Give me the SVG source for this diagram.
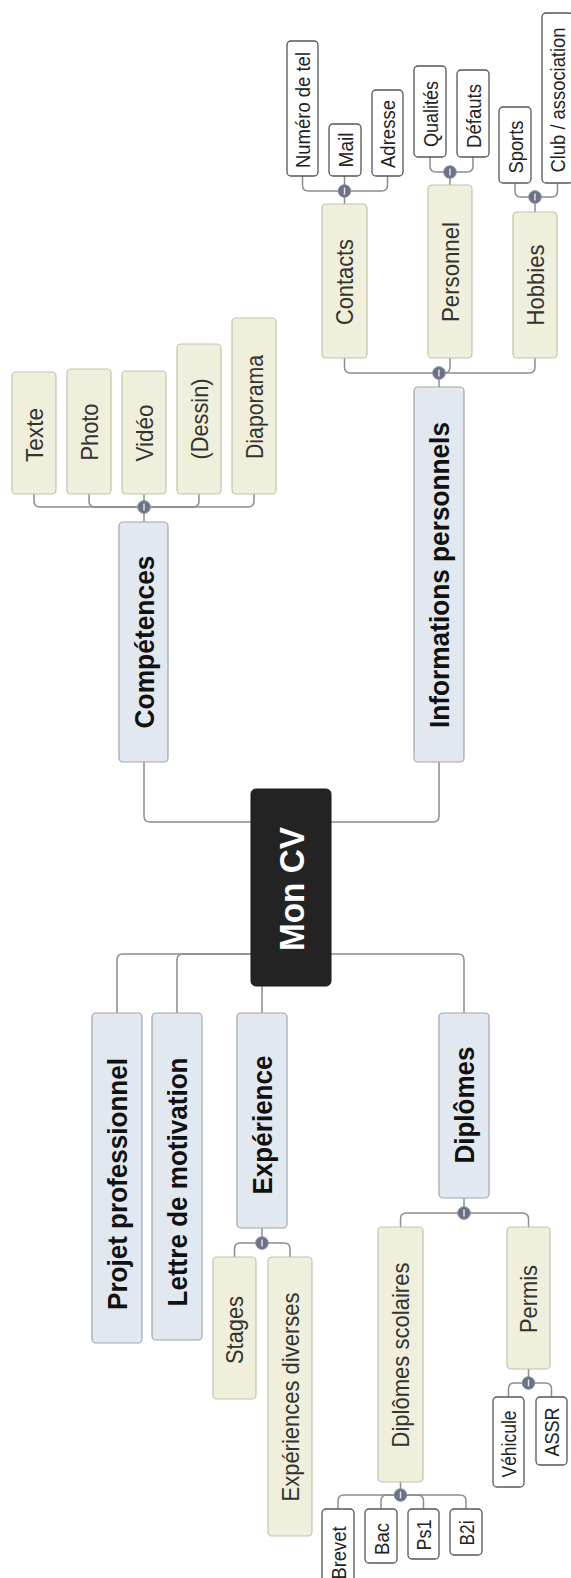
<svg xmlns="http://www.w3.org/2000/svg" xmlns:xlink="http://www.w3.org/1999/xlink" width="571" height="1578" viewBox="0 0 571 1578">
<style>
text{font-family:"Liberation Sans",Arial,sans-serif;text-anchor:middle;dominant-baseline:central}
.r0{fill:#232323;stroke:#1a1a1a;stroke-width:1}
.r1{fill:#e2e8f0;stroke:#9ea6b2;stroke-width:1.2}
.r2{fill:#f0efdc;stroke:#c4c2aa;stroke-width:1.2}
.r3{fill:#ffffff;stroke:#555555;stroke-width:1.3}
.t0{font-size:35px;font-weight:bold;fill:#ffffff}
.t1{font-size:28.5px;font-weight:bold;fill:#111111}
.t2{font-size:24.5px;fill:#333333}
.t3{font-size:21px;fill:#222222}
.c{fill:none;stroke:#8c8c8c;stroke-width:1.5}
</style>
<defs>
<g id="dot"><circle r="6.3" fill="#6b7285" stroke="#8a90a0" stroke-width="1"/><line x1="0" y1="-3.5" x2="0" y2="3.5" stroke="#e6e8ee" stroke-width="1.4"/></g>
</defs>
<rect width="571" height="1578" fill="#ffffff"/>
<g id="connectors">
<path class="c" d="M251,822 H150 Q144,822 144,816 V762"/>
<path class="c" d="M331,822 H433 Q439,822 439,816 V762"/>
<path class="c" d="M251,954 H123 Q117,954 117,960 V1013"/>
<path class="c" d="M251,954 H183 Q177,954 177,960 V1013"/>
<path class="c" d="M262,986 V1013"/>
<path class="c" d="M331,954 H458 Q464,954 464,960 V1013"/>
<path class="c" d="M144,522 V507"/>
<path class="c" d="M144,507 H40 Q34,507 34,501 V494"/>
<path class="c" d="M144,507 H95 Q89,507 89,501 V494"/>
<path class="c" d="M144,507 V494"/>
<path class="c" d="M144,507 H193 Q199,507 199,501 V494"/>
<path class="c" d="M144,507 H248 Q254,507 254,501 V494"/>
<path class="c" d="M439,387 V373"/>
<path class="c" d="M439,373 H350.5 Q344.5,373 344.5,367 V358"/>
<path class="c" d="M439,373 H444 Q450,373 450,367 V358"/>
<path class="c" d="M439,373 H529 Q535,373 535,367 V358"/>
<path class="c" d="M344.5,204 V191"/>
<path class="c" d="M344.5,191 H308.5 Q302.5,191 302.5,185 V176"/>
<path class="c" d="M344.5,191 V176"/>
<path class="c" d="M344.5,191 H381.5 Q387.5,191 387.5,185 V176"/>
<path class="c" d="M450,185 V172"/>
<path class="c" d="M450,172 H436 Q430,172 430,166 V157"/>
<path class="c" d="M450,172 H467 Q473,172 473,166 V157"/>
<path class="c" d="M535,212 V197"/>
<path class="c" d="M535,197 H521 Q515,197 515,191 V183"/>
<path class="c" d="M535,197 H551.5 Q557.5,197 557.5,191 V183"/>
<path class="c" d="M262,1228 V1243"/>
<path class="c" d="M262,1243 H240.5 Q234.5,1243 234.5,1249 V1257"/>
<path class="c" d="M262,1243 H284 Q290,1243 290,1249 V1257"/>
<path class="c" d="M464,1198 V1213"/>
<path class="c" d="M464,1213 H406.5 Q400.5,1213 400.5,1219 V1227"/>
<path class="c" d="M464,1213 H522.5 Q528.5,1213 528.5,1219 V1227"/>
<path class="c" d="M400.5,1482 V1495"/>
<path class="c" d="M400.5,1495 H344 Q338,1495 338,1501 V1509"/>
<path class="c" d="M400.5,1495 H387 Q381,1495 381,1501 V1509"/>
<path class="c" d="M400.5,1495 H417.5 Q423.5,1495 423.5,1501 V1509"/>
<path class="c" d="M400.5,1495 H460 Q466,1495 466,1501 V1509"/>
<path class="c" d="M528.5,1369 V1383"/>
<path class="c" d="M528.5,1383 H514.5 Q508.5,1383 508.5,1389 V1397"/>
<path class="c" d="M528.5,1383 H545.5 Q551.5,1383 551.5,1389 V1397"/>
<use xlink:href="#dot" x="144" y="507"/>
<use xlink:href="#dot" x="439" y="373"/>
<use xlink:href="#dot" x="344.5" y="191"/>
<use xlink:href="#dot" x="450" y="172"/>
<use xlink:href="#dot" x="535" y="197"/>
<use xlink:href="#dot" x="262" y="1243"/>
<use xlink:href="#dot" x="464" y="1213"/>
<use xlink:href="#dot" x="400.5" y="1495"/>
<use xlink:href="#dot" x="528.5" y="1383"/>
</g>
<g id="n-moncv"><rect class="r0" x="251" y="789" width="80" height="197" rx="5"/><text class="t0" transform="translate(291,889) rotate(-90)" textLength="124" lengthAdjust="spacingAndGlyphs">Mon CV</text></g>
<g id="n-competences"><rect class="r1" x="119" y="522" width="49" height="240" rx="4"/><text class="t1" transform="translate(143.5,642) rotate(-90)" textLength="173" lengthAdjust="spacingAndGlyphs">Compétences</text></g>
<g id="n-infos"><rect class="r1" x="414" y="387" width="50" height="375" rx="4"/><text class="t1" transform="translate(439,575) rotate(-90)" textLength="306" lengthAdjust="spacingAndGlyphs">Informations personnels</text></g>
<g id="n-projet"><rect class="r1" x="92" y="1013" width="50" height="330" rx="4"/><text class="t1" transform="translate(117,1184) rotate(-90)" textLength="252" lengthAdjust="spacingAndGlyphs">Projet professionnel</text></g>
<g id="n-lettre"><rect class="r1" x="152" y="1013" width="50" height="327" rx="4"/><text class="t1" transform="translate(177,1182) rotate(-90)" textLength="249" lengthAdjust="spacingAndGlyphs">Lettre de motivation</text></g>
<g id="n-experience"><rect class="r1" x="237" y="1013" width="50" height="215" rx="4"/><text class="t1" transform="translate(262,1125) rotate(-90)" textLength="139" lengthAdjust="spacingAndGlyphs">Expérience</text></g>
<g id="n-diplomes"><rect class="r1" x="439" y="1013" width="50" height="185" rx="4"/><text class="t1" transform="translate(464,1105) rotate(-90)" textLength="117" lengthAdjust="spacingAndGlyphs">Diplômes</text></g>
<g id="n-texte"><rect class="r2" x="12" y="372" width="44" height="122" rx="4"/><text class="t2" transform="translate(34,435) rotate(-90)" textLength="54" lengthAdjust="spacingAndGlyphs">Texte</text></g>
<g id="n-photo"><rect class="r2" x="67" y="369" width="44" height="125" rx="4"/><text class="t2" transform="translate(89,432) rotate(-90)" textLength="57" lengthAdjust="spacingAndGlyphs">Photo</text></g>
<g id="n-video"><rect class="r2" x="122" y="371" width="44" height="123" rx="4"/><text class="t2" transform="translate(144,433) rotate(-90)" textLength="57" lengthAdjust="spacingAndGlyphs">Vidéo</text></g>
<g id="n-dessin"><rect class="r2" x="177" y="344" width="44" height="150" rx="4"/><text class="t2" transform="translate(199,419) rotate(-90)" textLength="81" lengthAdjust="spacingAndGlyphs">(Dessin)</text></g>
<g id="n-diaporama"><rect class="r2" x="232" y="318" width="44" height="176" rx="4"/><text class="t2" transform="translate(254,407) rotate(-90)" textLength="104" lengthAdjust="spacingAndGlyphs">Diaporama</text></g>
<g id="n-contacts"><rect class="r2" x="322" y="204" width="45" height="154" rx="4"/><text class="t2" transform="translate(344.5,282) rotate(-90)" textLength="86" lengthAdjust="spacingAndGlyphs">Contacts</text></g>
<g id="n-personnel"><rect class="r2" x="428" y="185" width="44" height="173" rx="4"/><text class="t2" transform="translate(450,272) rotate(-90)" textLength="100" lengthAdjust="spacingAndGlyphs">Personnel</text></g>
<g id="n-hobbies"><rect class="r2" x="513" y="212" width="44" height="146" rx="4"/><text class="t2" transform="translate(535,285) rotate(-90)" textLength="81" lengthAdjust="spacingAndGlyphs">Hobbies</text></g>
<g id="n-stages"><rect class="r2" x="213" y="1257" width="43" height="142" rx="4"/><text class="t2" transform="translate(234.5,1330) rotate(-90)" textLength="68" lengthAdjust="spacingAndGlyphs">Stages</text></g>
<g id="n-expdiv"><rect class="r2" x="268" y="1257" width="44" height="279" rx="4"/><text class="t2" transform="translate(290,1397) rotate(-90)" textLength="209" lengthAdjust="spacingAndGlyphs">Expériences diverses</text></g>
<g id="n-scolaires"><rect class="r2" x="378" y="1227" width="45" height="255" rx="4"/><text class="t2" transform="translate(400.5,1355) rotate(-90)" textLength="185" lengthAdjust="spacingAndGlyphs">Diplômes scolaires</text></g>
<g id="n-permis"><rect class="r2" x="507" y="1227" width="43" height="142" rx="4"/><text class="t2" transform="translate(528.5,1299) rotate(-90)" textLength="68" lengthAdjust="spacingAndGlyphs">Permis</text></g>
<g id="n-numero"><rect class="r3" x="287" y="41" width="31" height="135" rx="4"/><text class="t3" transform="translate(302.5,110) rotate(-90)" textLength="116" lengthAdjust="spacingAndGlyphs">Numéro de tel</text></g>
<g id="n-mail"><rect class="r3" x="329" y="124" width="32" height="52" rx="4"/><text class="t3" transform="translate(345,150) rotate(-90)" textLength="35" lengthAdjust="spacingAndGlyphs">Mail</text></g>
<g id="n-adresse"><rect class="r3" x="372" y="90" width="31" height="86" rx="4"/><text class="t3" transform="translate(387.5,134) rotate(-90)" textLength="68" lengthAdjust="spacingAndGlyphs">Adresse</text></g>
<g id="n-qualites"><rect class="r3" x="414" y="66" width="32" height="91" rx="4"/><text class="t3" transform="translate(430,114) rotate(-90)" textLength="66" lengthAdjust="spacingAndGlyphs">Qualités</text></g>
<g id="n-defauts"><rect class="r3" x="457" y="70" width="32" height="87" rx="4"/><text class="t3" transform="translate(473,116) rotate(-90)" textLength="64" lengthAdjust="spacingAndGlyphs">Défauts</text></g>
<g id="n-sports"><rect class="r3" x="499" y="107" width="32" height="76" rx="4"/><text class="t3" transform="translate(515,147) rotate(-90)" textLength="53" lengthAdjust="spacingAndGlyphs">Sports</text></g>
<g id="n-club"><rect class="r3" x="542" y="13" width="31" height="170" rx="4"/><text class="t3" transform="translate(557.5,100) rotate(-90)" textLength="145" lengthAdjust="spacingAndGlyphs">Club / association</text></g>
<g id="n-vehicule"><rect class="r3" x="493" y="1397" width="31" height="90" rx="4"/><text class="t3" transform="translate(508.5,1444) rotate(-90)" textLength="67" lengthAdjust="spacingAndGlyphs">Véhicule</text></g>
<g id="n-assr"><rect class="r3" x="536" y="1397" width="31" height="68" rx="4"/><text class="t3" transform="translate(551.5,1432) rotate(-90)" textLength="49" lengthAdjust="spacingAndGlyphs">ASSR</text></g>
<g id="n-brevet"><rect class="r3" x="322" y="1509" width="32" height="80" rx="4"/><text class="t3" transform="translate(338,1553) rotate(-90)" textLength="53" lengthAdjust="spacingAndGlyphs">Brevet</text></g>
<g id="n-bac"><rect class="r3" x="365" y="1509" width="32" height="54" rx="4"/><text class="t3" transform="translate(381,1539) rotate(-90)" textLength="32" lengthAdjust="spacingAndGlyphs">Bac</text></g>
<g id="n-ps1"><rect class="r3" x="408" y="1509" width="31" height="50" rx="4"/><text class="t3" transform="translate(423.5,1535) rotate(-90)" textLength="31" lengthAdjust="spacingAndGlyphs">Ps1</text></g>
<g id="n-b2i"><rect class="r3" x="450" y="1509" width="32" height="46" rx="4"/><text class="t3" transform="translate(466,1533) rotate(-90)" textLength="25" lengthAdjust="spacingAndGlyphs">B2i</text></g>
</svg>
